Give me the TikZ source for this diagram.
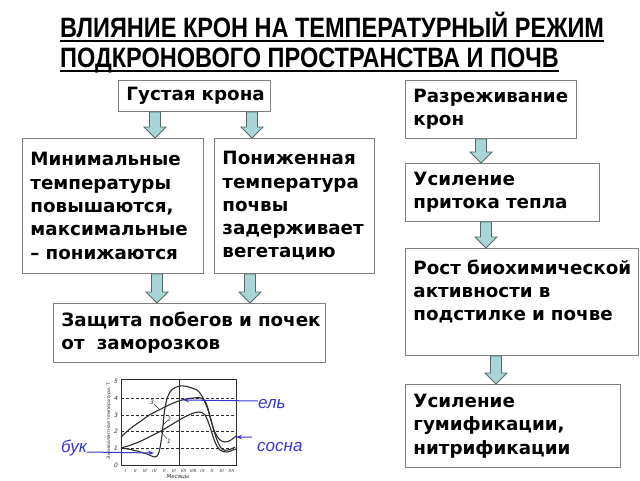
\documentclass[tikz,border=0pt]{standalone}
\usepackage{fontspec}
\setmainfont{DejaVu Sans}
\newfontfamily\titlefont{Liberation Sans}
\newfontfamily\labfont{Liberation Sans}
\usetikzlibrary{calc,arrows.meta}
\definecolor{boxgray}{RGB}{128,128,128}
\definecolor{arrfill}{RGB}{168,214,214}
\definecolor{arrdraw}{RGB}{85,105,105}
\definecolor{lblue}{RGB}{55,55,205}
\definecolor{chartgray}{RGB}{45,45,45}
\newcommand\blockarrow[3]{%
  \draw[barrow] let \p1=(#1.south -| #3), \p2=(#2.north -| #3) in
   (\x1-5.5pt,\y1) -- (\x1+5.5pt,\y1) -- (\x1+5.5pt,\y2+11pt) -- (\x1+11pt,\y2+11pt)
   -- (\x1,\y2) -- (\x1-11pt,\y2+11pt) -- (\x1-5.5pt,\y2+11pt) -- cycle;}
\newcommand\ttl[1]{\scalebox{0.84}[1]{#1}}
\begin{document}
\begin{tikzpicture}[x=1pt,y=-1pt,
  box/.style={draw=boxgray, line width=0.9pt, anchor=north west, inner xsep=8pt, inner ysep=2pt,
    align=left, font=\fontsize{18.3}{23.3}\selectfont\bfseries},
  barrow/.style={draw=arrdraw, fill=arrfill, line width=0.8pt, line join=miter},
  titletext/.style={inner sep=0pt, font=\titlefont\bfseries\fontsize{28}{30}\selectfont},
  blab/.style={inner sep=0pt, text=lblue, font=\labfont\itshape\fontsize{17}{20}\selectfont},
  bluearr/.style={draw=lblue, line width=1pt, -{Stealth[length=6pt,width=4.5pt]}},
  tinylab/.style={inner sep=0pt, text=chartgray, font=\fontsize{6}{6}\selectfont\itshape},
  curve/.style={draw=chartgray, line width=1.1pt}]
\fill[white] (0,0) rectangle (640,480);
\useasboundingbox (0,0) rectangle (640,480);

% title
\node[titletext, anchor=base west] (t1) at (60,37) {\ttl{ВЛИЯНИЕ КРОН НА ТЕМПЕРАТУРНЫЙ РЕЖИМ}};
\node[titletext, anchor=base west] (t2) at (60,67) {\ttl{ПОДКРОНОВОГО ПРОСТРАНСТВА И ПОЧВ}};
\draw[line width=1.8pt] ($(t1.base west)+(0,4)$) -- ($(t1.base east)+(0,4)$);
\draw[line width=1.8pt] ($(t2.base west)+(0,4)$) -- ($(t2.base east)+(0,4)$);

% boxes
\node[box, text width=136pt, minimum height=31pt] (gk) at (118,80) {\mbox{Густая крона}};
\node[box, text width=165pt, minimum height=135pt] (min) at (22,138)
  {Минимальные\\температуры\\повышаются,\\максимальные\\\mbox{– понижаются}};
\node[box, text width=144pt, minimum height=135pt] (pon) at (214,138)
  {Пониженная\\температура\\почвы\\задерживает\\вегетацию};
\node[box, text width=256pt, minimum height=59pt] (zash) at (53,303)
  {\mbox{Защита побегов и почек}\\\mbox{от\ \ заморозков}};
\node[box, text width=155pt, minimum height=58pt] (raz) at (405,80)
  {Разреживание\\крон};
\node[box, text width=178pt, minimum height=58pt] (usil) at (405,163)
  {Усиление\\\mbox{притока тепла}};
\node[box, text width=217pt, minimum height=107pt] (rost) at (405,248)
  {\mbox{Рост биохимической}\\\mbox{активности в}\\\mbox{подстилке и почве}\\\mbox{}};
\node[box, text width=199pt, minimum height=83pt] (gum) at (405,384)
  {Усиление\\гумификации,\\нитрификации};

% block arrows
\coordinate (xa1) at (155,0);
\coordinate (xa2) at (252,0);
\coordinate (xa3) at (157,0);
\coordinate (xa4) at (250,0);
\coordinate (xa5) at (481,0);
\coordinate (xa6) at (486,0);
\coordinate (xa7) at (496,0);
\blockarrow{gk}{min}{xa1}
\blockarrow{gk}{pon}{xa2}
\blockarrow{min}{zash}{xa3}
\blockarrow{pon}{zash}{xa4}
\blockarrow{raz}{usil}{xa5}
\blockarrow{usil}{rost}{xa6}
\blockarrow{rost}{gum}{xa7}

% chart
\draw[chartgray, line width=0.8pt] (121,379) rectangle (236,465);
\foreach \v in {1,2,3,4} {
  \draw[chartgray, line width=0.4pt, dash pattern=on 3pt off 2pt] (121,465-16.7*\v) -- (236,465-16.7*\v);
}
\draw[chartgray, line width=0.5pt] (179,379) -- (179,465);
\foreach \v in {0,1,2,3,4,5} {
  \node[tinylab] (yl\v) at (116,465-16.7*\v) {\v};
}
\foreach \r [count=\i] in {I,II,III,IV,V,VI,VII,VIII,IX,X,XI,XII} {
  \node[tinylab, font=\fontsize{4.3}{5}\selectfont\itshape] (xl\i) at ({121+(\i-0.5)*9.6},470.5) {\r};
}
\node[tinylab, font=\fontsize{5.5}{6}\selectfont\itshape] (mes) at (178,477) {Месяцы};
\node[tinylab, rotate=90, font=\fontsize{4.6}{5}\selectfont\itshape] (ytit) at (109,421) {Эквивалентная температура, T};

\draw[curve] plot[smooth, tension=0.6] coordinates {(121,448) (133,450) (147,454) (155,457) (159,452) (162,435) (165,408) (170,392) (180,386) (192,388) (200,393) (207,407) (212,424) (217,440) (222,449) (228,450) (235,447)};
\draw[curve] plot[smooth, tension=0.6] coordinates {(121,437) (131,428) (141,421) (151,414) (161,409) (171,404) (182,400) (193,398) (201,398) (206,403) (210,416) (214,430) (219,439) (225,442) (231,440) (236,436)};
\draw[curve] plot[smooth, tension=0.6] coordinates {(121,448) (131,445) (141,441) (151,436) (161,431) (171,425) (181,419) (191,414) (199,412) (205,415) (210,427) (215,442) (220,450) (227,452) (233,450) (236,449)};

\node[tinylab] (c3) at (152,402) {3};
\node[tinylab] (c2) at (169,419) {2};
\node[tinylab] (c1) at (169,441) {1};
\coordinate (c3p) at (159,409);
\coordinate (c2p) at (163,425);
\coordinate (c1p) at (161,432);
\draw[chartgray, line width=0.4pt] (c3) -- (c3p);
\draw[chartgray, line width=0.4pt] (c2) -- (c2p);
\draw[chartgray, line width=0.4pt] (c1) -- (c1p);

% blue labels
\node[blab, anchor=west] (el) at (258,404) {ель};
\node[blab, anchor=west] (sosna) at (257,447) {сосна};
\node[blab, anchor=base east] (buk) at (87,452) {бук};
\coordinate (elpt) at (183,400);
\coordinate (sosnapt) at (236,437);
\coordinate (bukpt) at (154,453);
\draw[bluearr] ($(el.west)+(0,-3)$) -- (elpt);
\draw[bluearr] ($(sosna.north west)+(-5,-5)$) -- (sosnapt);
\draw[bluearr] (buk.base east) -- (bukpt);
\end{tikzpicture}
\end{document}
